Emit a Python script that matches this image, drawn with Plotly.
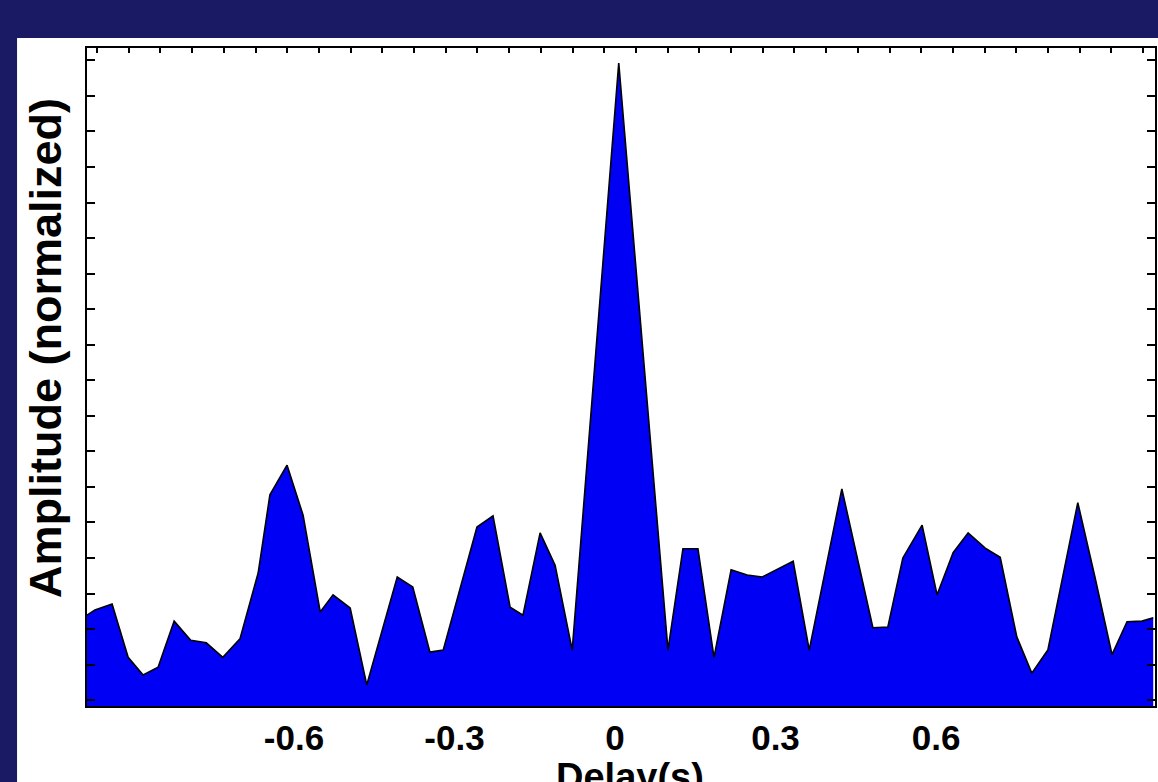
import plotly.graph_objects as go

# Delay (s) and normalized amplitude
delay = [-0.987, -0.972, -0.940, -0.910, -0.882, -0.854, -0.824, -0.793, -0.764, -0.733,
         -0.701, -0.667, -0.645, -0.613, -0.583, -0.551, -0.527, -0.495, -0.464, -0.407,
         -0.378, -0.346, -0.321, -0.258, -0.228, -0.196, -0.172, -0.140, -0.112, -0.080,
         0.007, 0.099, 0.127, 0.155, 0.185, 0.217, 0.247, 0.275, 0.333, 0.363,
         0.424, 0.482, 0.510, 0.538, 0.574, 0.602, 0.632, 0.660, 0.692, 0.720,
         0.751, 0.779, 0.809, 0.865, 0.897, 0.929, 0.957, 0.985, 1.006]
amplitude = [0.138, 0.146, 0.155, 0.074, 0.047, 0.059, 0.129, 0.100, 0.096, 0.074,
             0.102, 0.202, 0.321, 0.366, 0.290, 0.143, 0.169, 0.149, 0.032, 0.196,
             0.181, 0.082, 0.085, 0.272, 0.289, 0.150, 0.138, 0.263, 0.214, 0.085,
             0.977, 0.085, 0.239, 0.239, 0.074, 0.207, 0.199, 0.196, 0.220, 0.085,
             0.330, 0.119, 0.120, 0.225, 0.275, 0.169, 0.233, 0.263, 0.240, 0.226,
             0.105, 0.050, 0.085, 0.309, 0.196, 0.078, 0.128, 0.129, 0.134]

x_ticks = [-0.6, -0.3, 0, 0.3, 0.6]
x_tick_labels = ["-0.6", "-0.3", "0", "0.3", "0.6"]

NAVY = "#1a1a64"
X_RANGE = [-0.9869, 1.0093]

fig = go.Figure()
fig.add_trace(go.Scatter(
    x=delay, y=amplitude, mode="lines", fill="tozeroy",
    fillcolor="#0000f5", line=dict(color="black", width=1.6),
    hoverinfo="skip", showlegend=False))
# empty trace to activate the top tick axis
fig.add_trace(go.Scatter(x=[], y=[], xaxis="x2", showlegend=False))

fig.update_layout(
    width=1158, height=782,
    margin=dict(l=87, r=3, t=48, b=76, pad=0, autoexpand=False),
    paper_bgcolor="white", plot_bgcolor="white",
    font=dict(family="Liberation Sans, Arial, sans-serif", color="black"),
    xaxis=dict(range=X_RANGE, tickmode="array", tickvals=x_ticks, ticktext=x_tick_labels,
               ticks="", showgrid=False, zeroline=False, showline=True, automargin=False,
               linecolor="black", linewidth=2, mirror=True,
               tickfont=dict(size=35, family="Liberation Sans, Arial", weight="bold"),
               ticklabelstandoff=0),
    xaxis2=dict(range=X_RANGE, overlaying="x", side="top", tickmode="linear",
                tick0=-0.9682, dtick=0.05925, ticks="inside", ticklen=5, tickwidth=1.5,
                tickcolor="black", showticklabels=False, showgrid=False, zeroline=False,
                showline=False, automargin=False),
    yaxis=dict(range=[0, 1], tickmode="linear", tick0=0.0088, dtick=0.2161,
               ticks="inside", ticklen=8, tickwidth=2, tickcolor="black",
               showticklabels=False, showgrid=False, zeroline=False, showline=True,
               linecolor="black", linewidth=2, mirror="allticks", automargin=False,
               minor=dict(tick0=0.0088, dtick=0.054025, ticks="inside", ticklen=4,
                          tickwidth=1.5, tickcolor="black")),
    shapes=[
        # navy header band
        dict(type="rect", xref="paper", yref="paper",
             x0=-0.2, x1=1.2, y0=1.0152, y1=1.2,
             fillcolor=NAVY, line=dict(width=0), layer="below"),
        # navy left strip
        dict(type="rect", xref="paper", yref="paper",
             x0=-0.2, x1=-0.0655, y0=-0.3, y1=1.2,
             fillcolor=NAVY, line=dict(width=0), layer="below"),
    ],
    annotations=[
        dict(text="Amplitude (normalized)", textangle=-90, xref="paper", yref="paper",
             x=-0.0393, y=0.544, showarrow=False, xanchor="center", yanchor="middle",
             font=dict(size=45, family="Liberation Sans, Arial", weight="bold", color="black")),
        dict(text="Delay(s)", xref="paper", yref="paper", x=0.508, y=-0.108,
             showarrow=False, xanchor="center", yanchor="middle",
             font=dict(size=38, family="Liberation Sans, Arial", weight="bold", color="black")),
    ],
)

fig.write_html("out.html")
